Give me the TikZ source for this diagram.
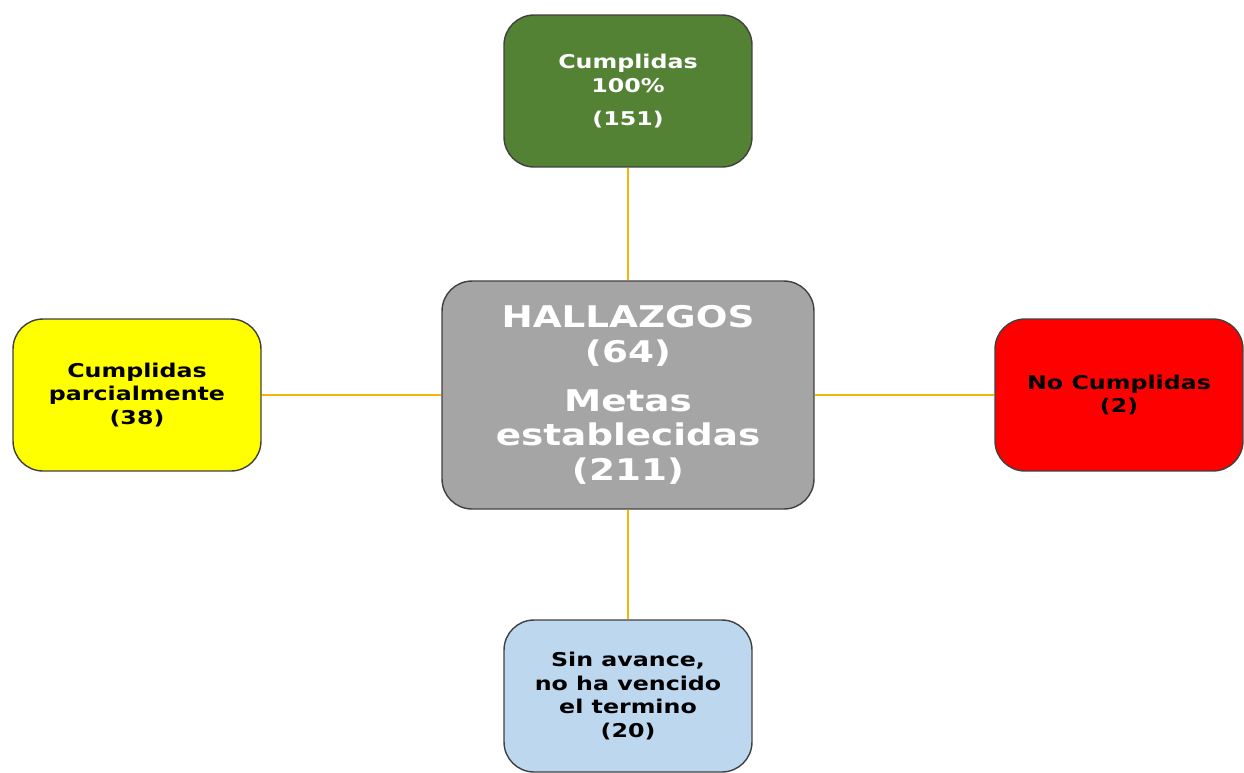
\documentclass[tikz,border=0pt]{standalone}
\usepackage{fontspec}
\setmainfont{DejaVu Sans}[FakeStretch=1.25]
\definecolor{boxgreen}{RGB}{84,130,53}
\definecolor{boxgrey}{RGB}{165,165,165}
\definecolor{boxyellow}{RGB}{255,255,0}
\definecolor{boxred}{RGB}{255,0,0}
\definecolor{boxblue}{RGB}{189,215,238}
\definecolor{linegold}{RGB}{242,183,5}
\begin{document}
\begin{tikzpicture}
[x=0.02cm,y=-0.02cm,
  boxdecorate/.style={shape=rectangle,rounded corners=0.6cm,draw=black!75,
    line width=0.8pt,align=center,inner sep=2pt,
    minimum width=4.96cm,minimum height=3.04cm,
    font=\bfseries\fontsize{10.8}{13.6}\selectfont},%
  linedecorate/.style={-,draw=linegold,line width=1.1pt}]
\useasboundingbox (0,0) rectangle (1244,772);
%% nodes or boxes
\node (hall) at (628,395) [boxdecorate,fill=boxgrey,text=white,
  minimum width=7.44cm,minimum height=4.56cm,
  font=\bfseries\fontsize{17}{19.8}\selectfont]
  {HALLAZGOS\\(64)\\[8pt]Metas\\establecidas\\(211)};
\node (cump) at (628,91) [boxdecorate,fill=boxgreen,text=white]
  {Cumplidas\\100\%\\[5.5pt](151)};
\node (parc) at (137,395) [boxdecorate,fill=boxyellow,text=black]
  {Cumplidas\\parcialmente\\(38)};
\node (nocu) at (1119,395) [boxdecorate,fill=boxred,text=black]
  {No Cumplidas\\(2)};
\node (sinav) at (628,696) [boxdecorate,fill=boxblue,text=black]
  {Sin avance,\\no ha vencido\\el termino\\(20)};
%% edges or lines
\path
\foreach \endnode in {cump, parc, nocu, sinav} {
  (hall) edge[linedecorate] (\endnode)
};
\end{tikzpicture}
\end{document}
